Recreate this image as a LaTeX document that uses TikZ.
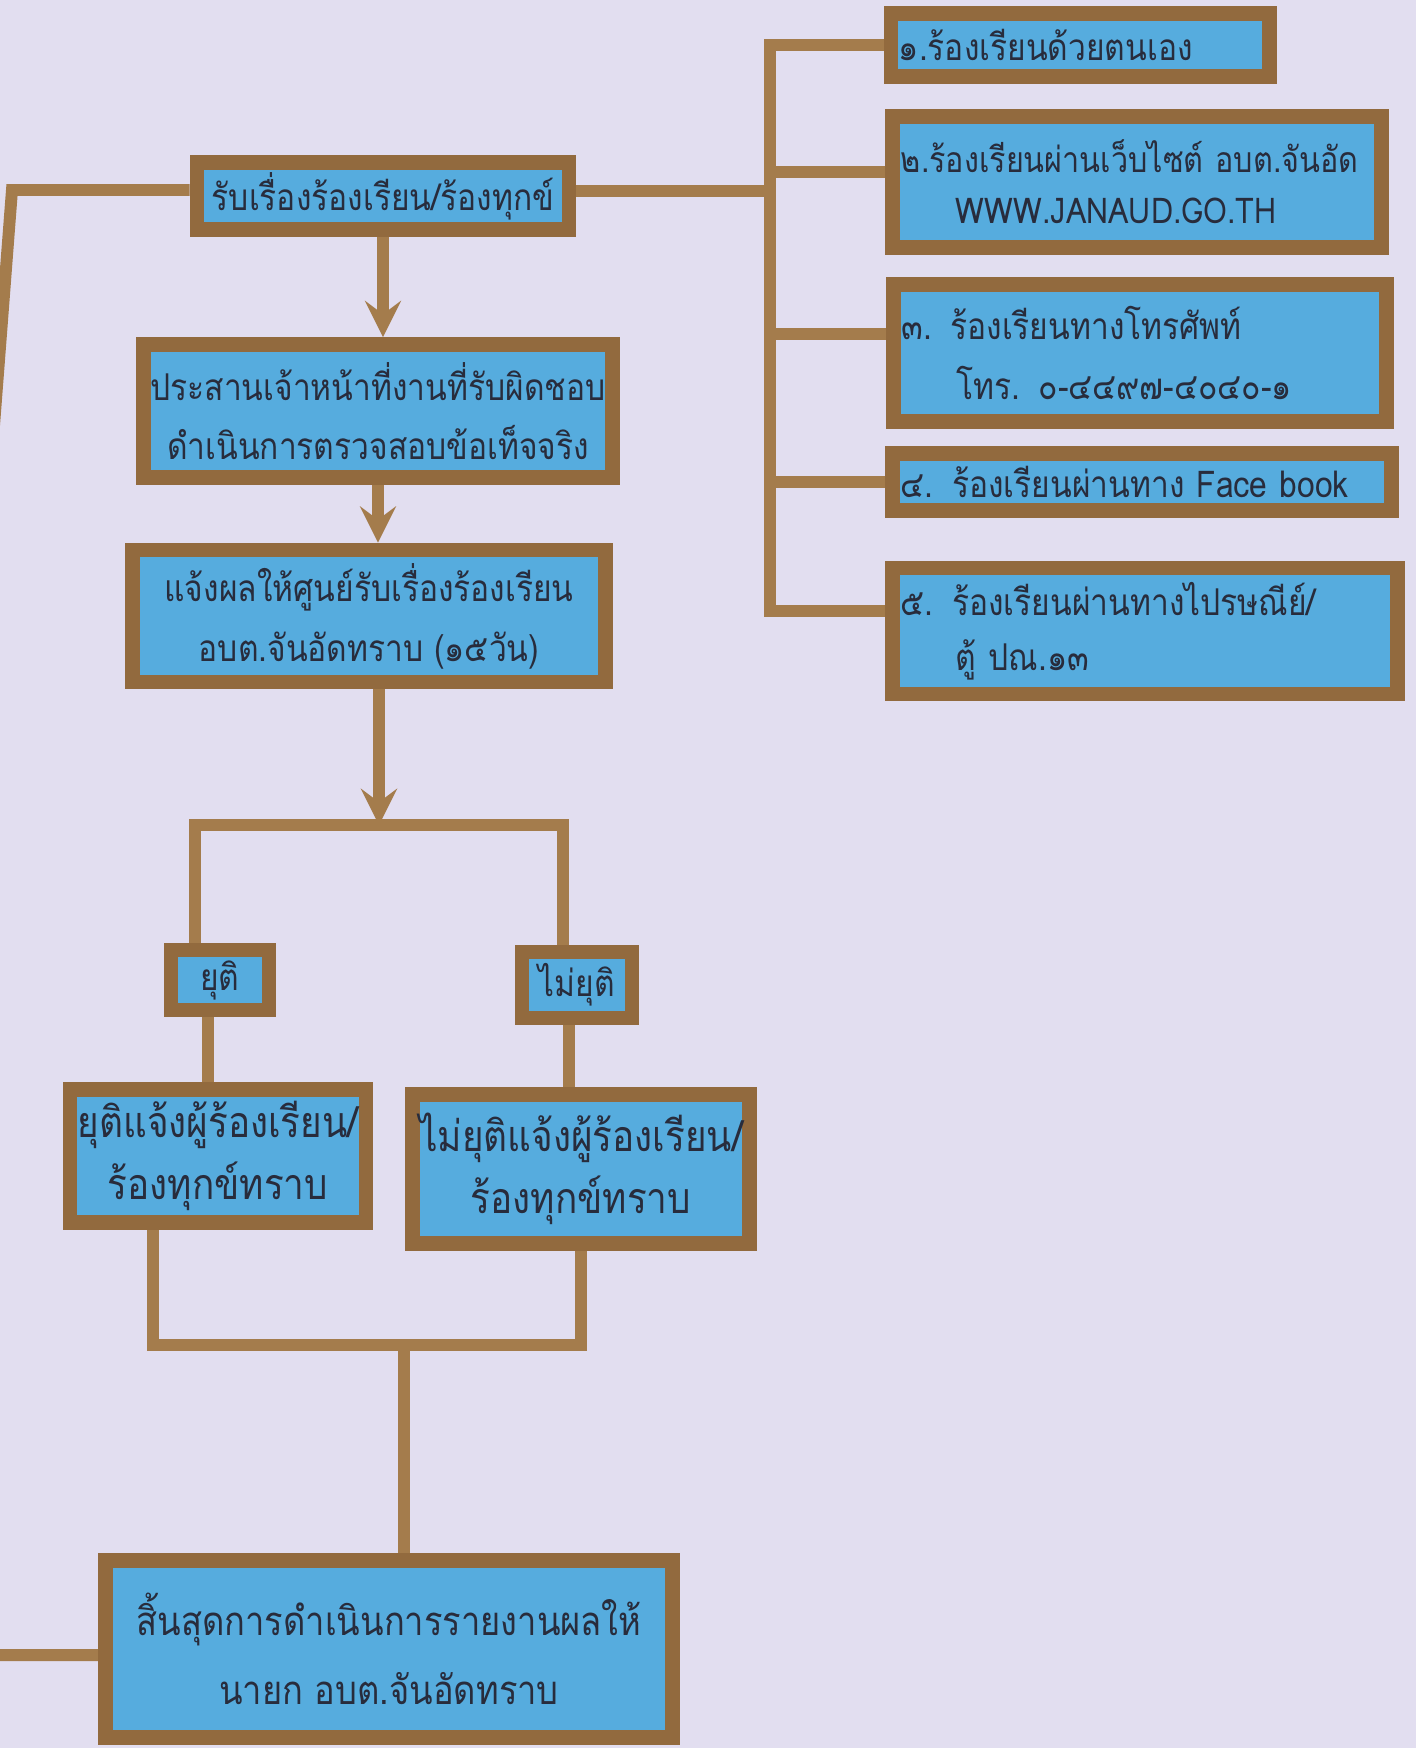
\documentclass[tikz,border=0pt]{standalone}
\usepackage{fontspec}
\newfontfamily\thaifont[Script=Thai,FakeStretch=0.86]{Loma}
\usetikzlibrary{positioning}

\definecolor{paper}{RGB}{226,222,240}
\definecolor{glitter}{RGB}{146,106,62}
\definecolor{goldline}{RGB}{164,124,76}
\definecolor{card}{RGB}{86,172,222}
\definecolor{ink}{RGB}{40,44,60}

\tikzset{
  card/.style={draw=glitter,line width=4.2pt,fill=card,text=ink,
    font=\thaifont\fontsize{10.5}{17}\selectfont,align=center,inner sep=2pt},
  bigcard/.style={card,font=\thaifont\fontsize{12.2}{17.5}\selectfont},
  way/.style={card,align=left,inner xsep=0.08cm,
    font=\thaifont\fontsize{10.5}{15.5}\selectfont},
  link/.style={draw=goldline,line width=3.4pt},
}

\begin{document}
\begin{tikzpicture}[x=0.01cm,y=-0.01cm,>=stealth]
\useasboundingbox (0,0) rectangle (1416,1748);
\fill[paper] (0,0) rectangle (1416,1748);

\coordinate (trunk) at (770,0);
\coordinate (split) at (379,825);
\coordinate (join) at (404,1345);
\coordinate (loopTop) at (12,190);
\coordinate (loopBot) at (-100,1655);

% main column
\node[card,minimum width=3.72cm,minimum height=0.67cm] (recv) at (383,196)
  {รับเรื่องร้องเรียน/ร้องทุกข์};
\node[card,minimum width=4.68cm,minimum height=1.33cm] (coord) at (378,411)
  {ประสานเจ้าหน้าที่งานที่รับผิดชอบ\\ดำเนินการตรวจสอบข้อเท็จจริง};
\node[card,minimum width=4.73cm,minimum height=1.32cm] (notify) at (369,616)
  {แจ้งผลให้ศูนย์รับเรื่องร้องเรียน\\อบต.จันอัดทราบ (๑๕วัน)};
\node[card,minimum width=0.98cm,minimum height=0.60cm] (settled) at (220,980) {ยุติ};
\node[card,minimum width=1.10cm,minimum height=0.66cm] (unsettled) at (577,985) {ไม่ยุติ};
\node[bigcard,minimum width=2.96cm,minimum height=1.33cm] (endok) at (218,1156)
  {ยุติแจ้งผู้ร้องเรียน/\\ร้องทุกข์ทราบ};
\node[bigcard,minimum width=3.34cm,minimum height=1.49cm] (endno) at (581,1169)
  {ไม่ยุติแจ้งผู้ร้องเรียน/\\ร้องทุกข์ทราบ};
\node[card,font=\thaifont\fontsize{11.4}{19.5}\selectfont,
  minimum width=5.67cm,minimum height=1.77cm] (finish) at (389,1649)
  {สิ้นสุดการดำเนินการรายงานผลให้\\นายก อบต.จันอัดทราบ};

% channels
\node[way,text width=3.62cm,minimum height=0.63cm] (ch1) at (1080,45)
  {\mbox{๑.ร้องเรียนด้วยตนเอง}};
\node[way,text width=4.72cm,minimum height=1.31cm,
  font=\thaifont\fontsize{10.1}{14.5}\selectfont] (ch2) at (1137,182)
  {\mbox{๒.ร้องเรียนผ่านเว็บไซต์ อบต.จันอัด}\\\hspace*{0.55cm}\mbox{WWW.JANAUD.GO.TH}};
\node[way,text width=4.77cm,minimum height=1.37cm,
  font=\thaifont\fontsize{10.5}{17}\selectfont] (ch3) at (1140,353)
  {\mbox{๓. ร้องเรียนทางโทรศัพท์}\\\hspace*{0.55cm}\mbox{โทร. ๐-๔๔๙๗-๔๐๔๐-๑}};
\node[way,text width=4.82cm,minimum height=0.57cm] (ch4) at (1142,482)
  {\mbox{๔. ร้องเรียนผ่านทาง Face book}};
\node[way,text width=4.88cm,minimum height=1.26cm] (ch5) at (1145,631)
  {\mbox{๕. ร้องเรียนผ่านทางไปรษณีย์/}\\\hspace*{0.55cm}\mbox{ตู้ ปณ.๑๓}};

% connectors
\draw[link,->] (recv.south) -- (recv.south |- coord.north);
\draw[link,->] (coord.south) -- (coord.south |- notify.north);
\draw[link,->] (notify.south -| split) -- (split);
\draw[link] ([xshift=-0.25cm]settled.north) |- (split) -| ([xshift=-0.14cm]unsettled.north);
\draw[link] ([xshift=-0.12cm]settled.south) -- ([xshift=-0.12cm]settled.south |- endok.north);
\draw[link] ([xshift=-0.08cm]unsettled.south) -- ([xshift=-0.08cm]unsettled.south |- endno.north);
\draw[link] ([xshift=-0.65cm]endok.south) |- (join) -| (endno.south);
\draw[link] (join) -- (join |- finish.north);
\draw[link] (recv.west |- loopTop) -- (loopTop) -- (loopBot) -- (finish.west |- loopBot);

\draw[link] ([yshift=0.05cm]recv.east) -- ([yshift=0.05cm]recv.east -| trunk);
\draw[link] (ch1.west) -- (ch1.west -| trunk) -- ([yshift=0.2cm]trunk |- ch5.west) -- ([yshift=0.2cm]ch5.west);
\draw[link] ([yshift=0.1cm]ch2.west) -- ([yshift=0.1cm]ch2.west -| trunk);
\draw[link] ([yshift=0.19cm]ch3.west) -- ([yshift=0.19cm]ch3.west -| trunk);
\draw[link] (ch4.west) -- (ch4.west -| trunk);
\end{tikzpicture}
\end{document}
